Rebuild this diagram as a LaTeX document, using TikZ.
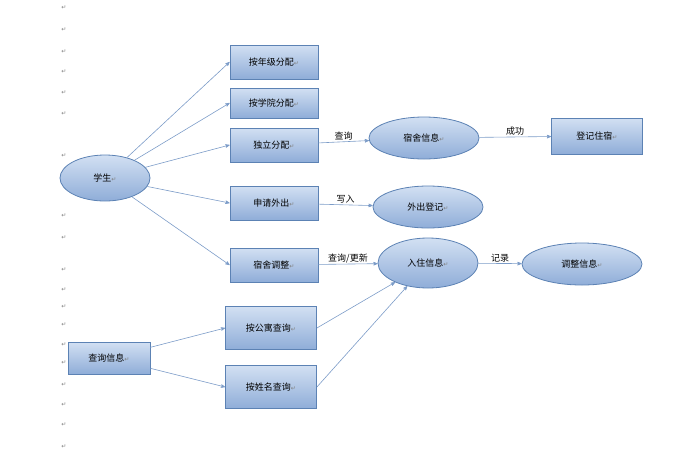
\documentclass[tikz,border=0pt]{standalone}
\usepackage{fontspec}
\setmainfont{Noto Sans CJK SC}
\newfontfamily\markfont{DejaVu Sans}
\usetikzlibrary{arrows,shapes.geometric}
\definecolor{boxfill}{HTML}{B4CBEA}
\definecolor{boxdark}{HTML}{8FADD8}
\definecolor{boxline}{HTML}{5C82B4}
\definecolor{arrowcol}{HTML}{7C9CC8}
\newcommand{\pmark}{{\markfont\fontsize{6}{6}\selectfont\color{gray}↵}}
\begin{document}
\begin{tikzpicture}[x=1pt,y=-1pt,>=stealth',thick,
  box node/.style={rectangle,draw=boxline,top color=boxfill!60,bottom color=boxdark,
    minimum width=88pt,minimum height=34pt,font=\small},
  oval node/.style={ellipse,draw=boxline,top color=boxfill!60,bottom color=boxdark,
    minimum width=110pt,minimum height=42pt,font=\small},
  link/.style={->,draw=arrowcol,semithick},
  tag/.style={font=\small,inner sep=1pt}]
  \useasboundingbox (0,0) rectangle (694,456);
  % paragraph marks down the margin
  \foreach \y in {8,30,52,72,93,114,156,216,238,270,290,307,325,345,363,385,405,425,447}
    \node[inner sep=0pt] at (64,\y) {\pmark};

  \node[oval node,minimum width=90pt,minimum height=46pt] (student) at (105,178) {学生\pmark};
  \node[box node] (grade) at (274,62) {按年级分配\pmark};
  \node[box node,minimum height=30pt] (college) at (274,103) {按学院分配\pmark};
  \node[box node] (single) at (274,145) {独立分配\pmark};
  \node[box node] (leave) at (274,203) {申请外出\pmark};
  \node[box node] (adjust) at (274,265) {宿舍调整\pmark};
  \node[oval node] (dorm) at (424,138) {宿舍信息\pmark};
  \node[box node,minimum width=91pt,minimum height=36pt] (register) at (597,136) {登记住宿\pmark};
  \node[oval node] (outreg) at (428,207) {外出登记\pmark};
  \node[oval node,minimum width=100pt,minimum height=50pt] (stay) at (428,263) {入住信息\pmark};
  \node[oval node,minimum width=120pt] (change) at (582,264) {调整信息\pmark};
  \node[box node,minimum width=82pt,minimum height=32pt] (query) at (109,358) {查询信息\pmark};
  \node[box node,minimum width=91pt,minimum height=43pt] (byapt) at (271,328) {按公寓查询\pmark};
  \node[box node,minimum width=91pt,minimum height=43pt] (byname) at (271,387) {按姓名查询\pmark};

  \draw[link] (student) -- (grade.west);
  \draw[link] (student) -- (college.west);
  \draw[link] (student) -- (single.west);
  \draw[link] (student) -- (leave.west);
  \draw[link] (student) -- (adjust.west);
  \draw[link] (single) -- node[tag,above] {查询} (dorm);
  \draw[link] (dorm) -- node[tag,above] {成功} (register);
  \draw[link] (leave) -- node[tag,above] {写入} (outreg);
  \draw[link] (adjust) -- node[tag,above] {查询/更新} (stay);
  \draw[link] (stay) -- node[tag,above] {记录} (change);
  \draw[link] (query) -- (byapt.west);
  \draw[link] (query) -- (byname.west);
  \draw[link] (byapt.east) -- (stay);
  \draw[link] (byname.east) -- (stay);
\end{tikzpicture}
\end{document}
